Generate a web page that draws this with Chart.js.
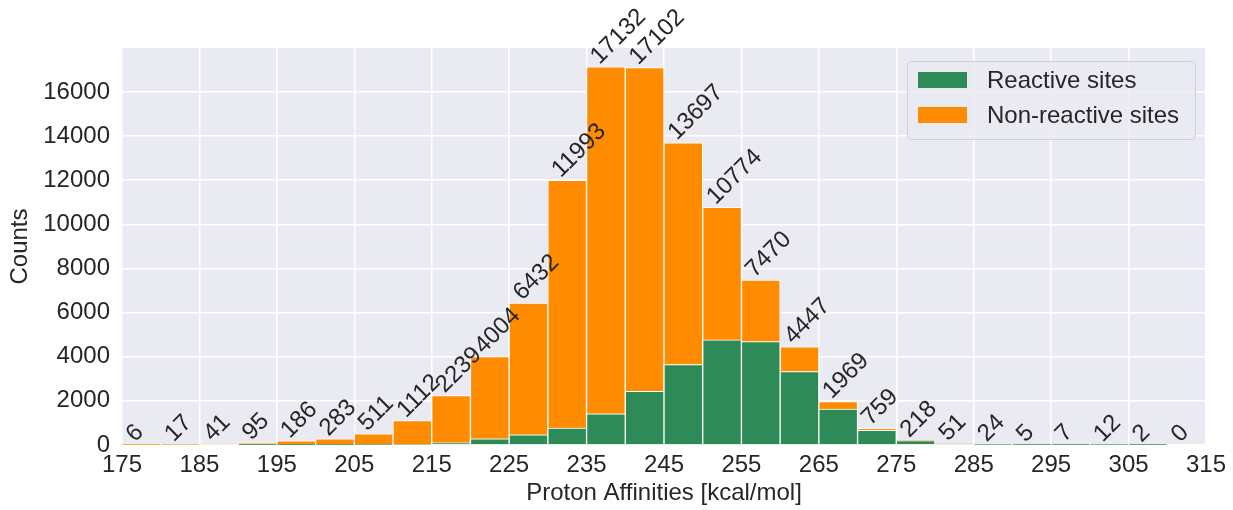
<!DOCTYPE html>
<html>
<head>
<meta charset="utf-8">
<script src="https://cdn.jsdelivr.net/npm/chart.js@4.4.1/dist/chart.umd.min.js"></script>
<style>
  html, body { margin: 0; padding: 0; background: #fff; }
  #wrap { width: 1233px; height: 510px; }
</style>
</head>
<body>
<div id="wrap"><canvas id="paChart" width="1233" height="510"></canvas></div>
<script>
// histogram bins (left edge, 5 kcal/mol wide)
const binStarts = [175, 180, 185, 190, 195, 200, 205, 210, 215, 220, 225, 230, 235, 240,
                   245, 250, 255, 260, 265, 270, 275, 280, 285, 290, 295, 300, 305, 310];
const reactive = [0, 0, 0, 1, 2, 3, 8, 25, 100, 285, 466, 768, 1415, 2427,
                  3648, 4760, 4687, 3331, 1627, 664, 195, 42, 18, 4, 5, 9, 1, 0];
const nonReactive = [6, 17, 41, 94, 184, 280, 503, 1087, 2139, 3719, 5966, 11225, 15717, 14675,
                     10049, 6014, 2783, 1116, 342, 95, 23, 9, 6, 1, 2, 3, 1, 0];
const xTicks = [175, 185, 195, 205, 215, 225, 235, 245, 255, 265, 275, 285, 295, 305, 315];
const yTicks = [0, 2000, 4000, 6000, 8000, 10000, 12000, 14000, 16000];

const binWidth = 5;
const fontFamily = "'Liberation Sans', Arial, Helvetica, sans-serif";
const textColor = '#262626';

const bgPlugin = {
  id: 'bg',
  beforeDraw(chart) {
    const { ctx, chartArea: a } = chart;
    ctx.save();
    ctx.fillStyle = '#EAEAF2';
    ctx.fillRect(a.left, a.top, a.right - a.left, a.bottom - a.top);
    ctx.restore();
  }
};

// rotated total count above each bin
const totalsPlugin = {
  id: 'totals',
  afterDatasetsDraw(chart) {
    const { ctx } = chart;
    const xs = chart.scales.x, ys = chart.scales.y;
    ctx.save();
    ctx.font = '24px ' + fontFamily;
    ctx.fillStyle = textColor;
    ctx.textBaseline = 'alphabetic';
    ctx.textAlign = 'left';
    binStarts.forEach((b, i) => {
      const total = reactive[i] + nonReactive[i];
      const px = xs.getPixelForValue(b);
      const py = ys.getPixelForValue(total);
      ctx.save();
      ctx.translate(px + 13, py - 2);
      ctx.rotate(-Math.PI / 4);
      ctx.fillText(String(total), 0, 0);
      ctx.restore();
    });
    ctx.restore();
  }
};

const legendPlugin = {
  id: 'boxLegend',
  afterDraw(chart) {
    const { ctx } = chart;
    const x = 907, y = 61, w = 288, h = 78;
    ctx.save();
    ctx.fillStyle = 'rgba(234,234,242,0.8)';
    ctx.strokeStyle = '#d0d0d8';
    ctx.lineWidth = 1;
    ctx.beginPath();
    ctx.roundRect(x + 0.5, y + 0.5, w, h, 4);
    ctx.fill();
    ctx.stroke();
    ctx.font = '24px ' + fontFamily;
    ctx.textBaseline = 'middle';
    ctx.textAlign = 'left';
    chart.data.datasets.forEach((ds, i) => {
      const cy = y + 19 + i * 35;
      ctx.fillStyle = ds.backgroundColor;
      ctx.fillRect(918, cy - 8, 49, 16);
      ctx.fillStyle = textColor;
      ctx.fillText(ds.label, 987, cy + 1);
    });
    ctx.restore();
  }
};

new Chart(document.getElementById('paChart'), {
  type: 'bar',
  data: {
    datasets: [{
      label: 'Reactive sites',
      data: binStarts.map((b, i) => ({ x: b + binWidth / 2, y: reactive[i] })),
      backgroundColor: '#2E8B57',
      borderColor: '#ffffff',
      borderWidth: 1,
      barPercentage: 1,
      categoryPercentage: 1
    }, {
      label: 'Non-reactive sites',
      data: binStarts.map((b, i) => ({ x: b + binWidth / 2, y: nonReactive[i] })),
      backgroundColor: '#FF8C00',
      borderColor: '#ffffff',
      borderWidth: 1,
      barPercentage: 1,
      categoryPercentage: 1
    }]
  },
  options: {
    responsive: false,
    animation: false,
    layout: { padding: { top: 48, right: 27, left: 0, bottom: 2 } },
    plugins: {
      legend: { display: false },
      tooltip: { enabled: false }
    },
    scales: {
      x: {
        type: 'linear',
        stacked: true,
        min: 175,
        max: 315,
        offset: false,
        grid: { color: '#ffffff', lineWidth: 1.5, drawTicks: false, offset: false },
        border: { display: false },
        afterBuildTicks: (s) => { s.ticks = xTicks.map(v => ({ value: v })); },
        afterFit: (s) => { s.height = 63; },
        ticks: {
          padding: 6,
          maxRotation: 0,
          autoSkip: false,
          color: textColor,
          font: { family: fontFamily, size: 24 },
          callback: (v) => String(v)
        },
        title: {
          display: true,
          text: 'Proton Affinities [kcal/mol]',
          color: textColor,
          font: { family: fontFamily, size: 24 },
          padding: { top: 0, bottom: 0 }
        }
      },
      y: {
        stacked: true,
        min: 0,
        max: 17989,
        grid: { color: '#ffffff', lineWidth: 1.5, drawTicks: false },
        border: { display: false },
        afterBuildTicks: (s) => { s.ticks = yTicks.map(v => ({ value: v })); },
        afterFit: (s) => { s.width = 122; },
        ticks: {
          padding: 12,
          color: textColor,
          font: { family: fontFamily, size: 24 },
          callback: (v) => String(v)
        },
        title: {
          display: true,
          text: 'Counts',
          color: textColor,
          font: { family: fontFamily, size: 24 },
          padding: { top: 6, bottom: 0 }
        }
      }
    }
  },
  plugins: [bgPlugin, totalsPlugin, legendPlugin]
});
</script>
</body>
</html>
